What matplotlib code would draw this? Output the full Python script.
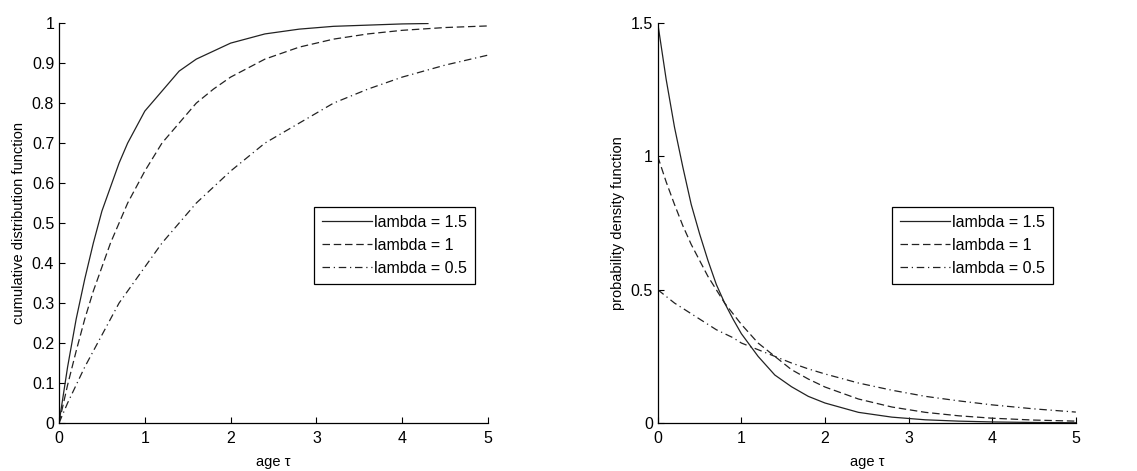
import matplotlib
matplotlib.use('agg')
import matplotlib.pyplot as plt

plt.rcParams['font.family'] = ['Liberation Sans', 'DejaVu Sans']

# values
ages = [0, 0.1, 0.2, 0.3, 0.4, 0.5, 0.6, 0.7, 0.8, 0.9, 1.0, 1.2, 1.4, 1.6, 1.8, 2.0,
        2.4, 2.8, 3.2, 3.6, 4.0, 4.5, 5.0]
ages_short = [0, 0.1, 0.2, 0.3, 0.4, 0.5, 0.6, 0.7, 0.8, 0.9, 1.0, 1.2, 1.4, 1.6, 1.8, 2.0,
              2.4, 2.8, 3.2, 3.6, 4.0, 4.3]

cdf_15 = [0, 0.14, 0.26, 0.36, 0.45, 0.53, 0.59, 0.65, 0.70, 0.74, 0.78, 0.83, 0.88, 0.91,
          0.93, 0.95, 0.973, 0.985, 0.992, 0.995, 0.998, 0.999]
cdf_10 = [0, 0.095, 0.18, 0.26, 0.33, 0.39, 0.45, 0.50, 0.55, 0.59, 0.63, 0.70, 0.75, 0.80,
          0.835, 0.865, 0.91, 0.94, 0.96, 0.973, 0.982, 0.989, 0.993]
cdf_05 = [0, 0.05, 0.095, 0.14, 0.18, 0.22, 0.26, 0.30, 0.33, 0.36, 0.39, 0.45, 0.50, 0.55,
          0.59, 0.63, 0.70, 0.75, 0.80, 0.835, 0.865, 0.895, 0.92]

pdf_15 = [1.5, 1.29, 1.11, 0.96, 0.82, 0.71, 0.61, 0.52, 0.45, 0.39, 0.335, 0.25, 0.18, 0.136,
          0.10, 0.075, 0.04, 0.022, 0.012, 0.007, 0.004, 0.002, 0.001]
pdf_10 = [1.0, 0.905, 0.82, 0.74, 0.67, 0.61, 0.55, 0.50, 0.45, 0.41, 0.37, 0.30, 0.25, 0.20,
          0.165, 0.135, 0.09, 0.06, 0.04, 0.027, 0.018, 0.011, 0.007]
pdf_05 = [0.5, 0.475, 0.45, 0.43, 0.41, 0.39, 0.37, 0.35, 0.335, 0.32, 0.30, 0.275, 0.25, 0.225,
          0.203, 0.184, 0.15, 0.123, 0.10, 0.083, 0.068, 0.053, 0.041]

labels = ['lambda = 1.5', 'lambda = 1', 'lambda = 0.5']
styles = ['-', (0, (6, 3)), (0, (6, 3, 1, 3))]
line_color = '#222222'

fig = plt.figure(figsize=(11.37, 4.71), dpi=100)
ax_cdf = fig.add_axes([0.0519, 0.1019, 0.3773, 0.849])
ax_pdf = fig.add_axes([0.5785, 0.1019, 0.3677, 0.849])

ax_cdf.plot(ages_short, cdf_15, linestyle=styles[0], color=line_color, lw=0.9, label=labels[0])
ax_cdf.plot(ages, cdf_10, linestyle=styles[1], color=line_color, lw=0.9, label=labels[1])
ax_cdf.plot(ages, cdf_05, linestyle=styles[2], color=line_color, lw=0.9, label=labels[2])

ax_pdf.plot(ages, pdf_15, linestyle=styles[0], color=line_color, lw=0.9, label=labels[0])
ax_pdf.plot(ages, pdf_10, linestyle=styles[1], color=line_color, lw=0.9, label=labels[1])
ax_pdf.plot(ages, pdf_05, linestyle=styles[2], color=line_color, lw=0.9, label=labels[2])

ax_cdf.set_xlim(0, 5)
ax_cdf.set_ylim(0, 1)
ax_cdf.set_yticks([i / 10 for i in range(11)])
ax_cdf.set_yticklabels(['0'] + ['0.%d' % i for i in range(1, 10)] + ['1'])
ax_cdf.set_ylabel('cumulative distribution function', fontsize=10.5)

ax_pdf.set_xlim(0, 5)
ax_pdf.set_ylim(0, 1.5)
ax_pdf.set_yticks([0, 0.5, 1, 1.5])
ax_pdf.set_yticklabels(['0', '0.5', '1', '1.5'])
ax_pdf.set_ylabel('probability density function', fontsize=10.5)

for ax in (ax_cdf, ax_pdf):
    ax.set_xticks(range(6))
    ax.set_xlabel('age \u03c4', fontsize=10.5, labelpad=6)
    ax.spines['top'].set_visible(False)
    ax.spines['right'].set_visible(False)
    ax.spines['left'].set_linewidth(0.9)
    ax.spines['bottom'].set_linewidth(0.9)
    ax.tick_params(direction='in', length=4, labelsize=11.5, width=0.8)
    ax.tick_params(axis='x', pad=6)
    leg = ax.legend(loc='upper right', fontsize=11.5, handlelength=3.1,
                    fancybox=False, edgecolor='black', framealpha=1,
                    borderaxespad=0, handletextpad=0.15, labelspacing=0.5,
                    borderpad=0.5)
    leg.get_frame().set_linewidth(0.9)

ax_cdf.get_legend().set_bbox_to_anchor((0.97, 0.54), transform=ax_cdf.transAxes)
ax_pdf.get_legend().set_bbox_to_anchor((0.945, 0.54), transform=ax_pdf.transAxes)

fig.savefig('out.png', dpi=100)
